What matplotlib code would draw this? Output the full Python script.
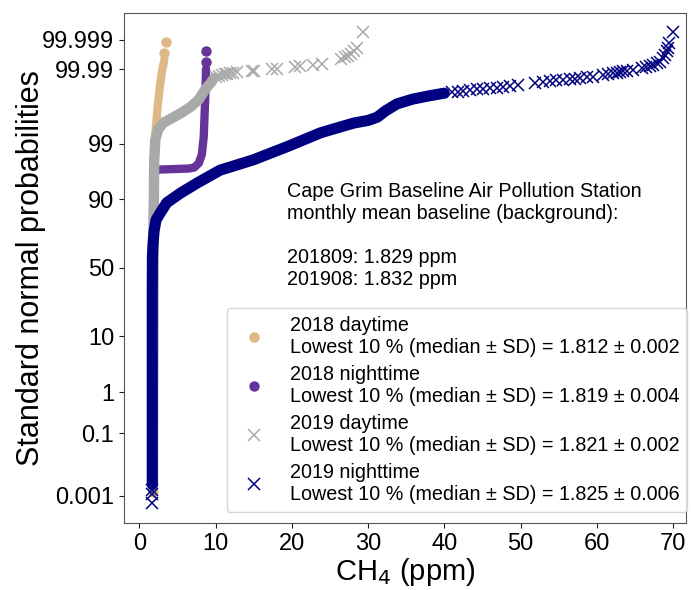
import numpy as np
import matplotlib.pyplot as plt
from matplotlib.lines import Line2D
from statistics import NormalDist

plt.rcParams['font.family'] = ['Liberation Sans', 'DejaVu Sans']

# probability ticks (percent) on the standard normal axis
prob_ticks = [0.001, 0.1, 1, 10, 50, 90, 99, 99.99, 99.999]
prob_labels = ['0.001', '0.1', '1', '10', '50', '90', '99', '99.99', '99.999']

# values: CH4 (ppm) vs standard normal quantile
# dense part of each curve (drawn as a thick band) + separate single markers
d18_body_x = [1.78, 1.8, 1.8, 1.82, 1.88, 1.95, 2.1, 2.4, 2.7, 3.0, 3.3]
d18_body_z = [-4.15, -3.0, -1.0, 0.5, 1.5, 2.0, 2.5, 3.0, 3.4, 3.7, 3.9]
d18_pts_x = [1.75, 3.3, 3.45]
d18_pts_z = [-4.19, 4.03, 4.23]

n18_body_x = [1.78, 1.8, 1.8, 1.85, 2.3, 4.5, 6.5, 7.2, 7.8, 8.2, 8.45, 8.6, 8.7, 8.75]
n18_body_z = [-4.1, -2.0, 1.0, 1.7, 1.84, 1.85, 1.86, 1.88, 1.96, 2.12, 2.45, 3.0, 3.4, 3.72]
n18_pts_x = [8.75, 8.8]
n18_pts_z = [3.85, 4.05]

d19_body_x = [1.8, 1.85, 1.9, 1.95, 2.1, 2.5, 3.2, 4.5, 5.5, 6.8, 7.8, 8.7, 9.3, 9.8]
d19_body_z = [-4.1, -1.0, 1.0, 2.0, 2.4, 2.6, 2.72, 2.82, 2.9, 3.02, 3.15, 3.35, 3.45, 3.55]
d19_pts_x = [10.0, 10.4, 10.8, 11.2, 11.5, 11.9, 12.3, 12.8, 14.8, 15.1, 17.4, 18.0,
             20.4, 21.1, 22.8, 23.9, 26.5, 27.0, 27.4, 27.8, 28.2, 28.6, 29.4]
d19_pts_z = [3.58, 3.6, 3.61, 3.62, 3.63, 3.64, 3.65, 3.66, 3.68, 3.69, 3.72, 3.73,
             3.76, 3.77, 3.8, 3.82, 3.9, 3.94, 3.97, 4.0, 4.05, 4.12, 4.42]

n19_body_x = [1.7, 1.7, 1.7, 1.72, 1.8, 1.95, 2.2, 2.75, 3.6, 5.4, 7.6, 10.6, 14.9,
              19.4, 23.8, 28.1, 30.0, 31.2, 32.3, 33.8, 35.9, 38.0, 40.0]
n19_body_z = [-4.05, -2.5, -0.5, 0.2, 0.45, 0.7, 0.9, 1.03, 1.22, 1.40, 1.59, 1.83, 2.02,
              2.27, 2.53, 2.71, 2.76, 2.82, 2.94, 3.07, 3.16, 3.22, 3.27]
n19_pts_x = [1.66, 1.68, 1.7, 41.0, 41.8, 42.5, 43.4, 44.3, 45.1, 46.0, 46.9, 47.7, 48.6,
             49.7, 51.9, 52.9, 53.9, 54.7, 55.6, 56.5, 57.1, 57.8, 58.7, 59.5, 60.8,
             61.5, 62.1, 62.6, 63.0, 63.4, 63.9, 64.7, 65.9, 66.5, 67.0, 67.4, 67.9,
             68.3, 68.7, 69.0, 69.2, 69.3, 69.5, 70.0]
n19_pts_z = [-4.39, -4.22, -4.15, 3.29, 3.30, 3.31, 3.33, 3.34, 3.35, 3.36, 3.37, 3.39, 3.40,
             3.42, 3.46, 3.48, 3.50, 3.51, 3.52, 3.53, 3.54, 3.55, 3.57, 3.58, 3.61,
             3.63, 3.64, 3.65, 3.67, 3.68, 3.69, 3.71, 3.74, 3.76, 3.78, 3.80, 3.83,
             3.85, 3.92, 3.98, 4.05, 4.12, 4.2, 4.42]

labels = ['2018 daytime\nLowest 10 % (median \u00b1 SD) = 1.812 \u00b1 0.002',
          '2018 nighttime\nLowest 10 % (median \u00b1 SD) = 1.819 \u00b1 0.004',
          '2019 daytime\nLowest 10 % (median \u00b1 SD) = 1.821 \u00b1 0.002',
          '2019 nighttime\nLowest 10 % (median \u00b1 SD) = 1.825 \u00b1 0.006']
note = ('Cape Grim Baseline Air Pollution Station\n'
        'monthly mean baseline (background):\n\n'
        '201809: 1.829 ppm\n201908: 1.832 ppm')

c_tan = '#deb887'
c_pur = '#663399'
c_gray = '#a9a9a9'
c_navy = '#000080'

fig = plt.figure(figsize=(6.91, 5.9), dpi=100)
ax = fig.add_axes([0.1795, 0.1136, 0.8133, 0.8644])

series = [
    (d18_body_x, d18_body_z, d18_pts_x, d18_pts_z, c_tan, 'o', 6.0),
    (n18_body_x, n18_body_z, n18_pts_x, n18_pts_z, c_pur, 'o', 6.0),
    (d19_body_x, d19_body_z, d19_pts_x, d19_pts_z, c_gray, 'x', 7.5),
    (n19_body_x, n19_body_z, n19_pts_x, n19_pts_z, c_navy, 'x', 8.0),
]
for bx, bz, px, pz, col, mk, lw in series:
    ax.plot(bx, bz, '-', color=col, lw=lw, solid_capstyle='round',
            solid_joinstyle='round', zorder=2)
    if mk == 'o':
        ax.plot(px, pz, 'o', color=col, ms=7.5, mew=0, zorder=2)
    else:
        ax.plot(px, pz, 'x', color=col, ms=8, mew=1.1, zorder=2)

ax.set_xlim(-2, 71.7)
ax.set_ylim(-4.77, 4.77)
ax.set_xticks(np.arange(0, 71, 10))
ax.set_yticks([NormalDist().inv_cdf(p / 100) for p in prob_ticks])
ax.set_yticklabels(prob_labels)
ax.tick_params(labelsize=17, colors='#222222', labelcolor='black')
for s in ax.spines.values():
    s.set_color('#555555')

ax.set_xlabel('CH$_4$ (ppm)', fontsize=21, labelpad=1)
ax.set_ylabel('Standard normal probabilities', fontsize=22, labelpad=-3)

ax.text(0.29, 0.668, note, transform=ax.transAxes, fontsize=14.2,
        va='top', ha='left', linespacing=1.2)

handles = [
    Line2D([], [], ls='', marker='o', color=c_tan, ms=7.5, mew=0),
    Line2D([], [], ls='', marker='o', color=c_pur, ms=7.5, mew=0),
    Line2D([], [], ls='', marker='x', color=c_gray, ms=8, mew=1.1),
    Line2D([], [], ls='', marker='x', color=c_navy, ms=8, mew=1.1),
]
leg = ax.legend(handles, labels, loc='lower right', bbox_to_anchor=(1.002, 0.022),
                fontsize=14.2, borderaxespad=0, handletextpad=0.8,
                labelspacing=0.4, handlelength=2.0)

fig.savefig('out.png', dpi=100)
